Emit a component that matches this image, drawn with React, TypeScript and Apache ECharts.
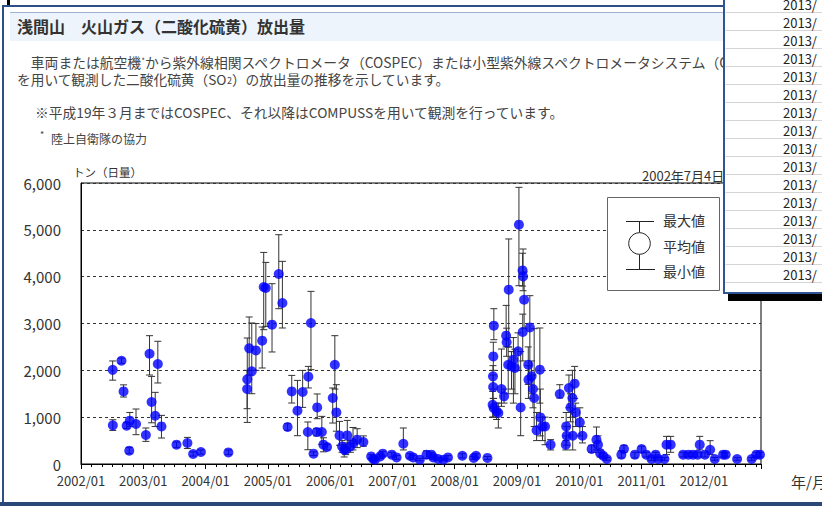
import React, { useEffect, useRef } from 'react';
import * as echarts from 'echarts';

// Observation dates (YYYY/MM/DD) and SO2 emission rates in tonnes per day
const dates = [
  '2002/07/04', '2002/07/05', '2002/08/25', '2002/09/07', '2002/09/25', '2002/10/10', '2002/10/13', '2002/11/19',
  '2003/01/16', '2003/02/07', '2003/02/19', '2003/03/10', '2003/03/25', '2003/04/16', '2003/07/13', '2003/09/16',
  '2003/10/19', '2003/12/04', '2004/05/13', '2004/09/01', '2004/09/02', '2004/09/13', '2004/09/28', '2004/10/22',
  '2004/11/28', '2004/12/07', '2004/12/19', '2005/01/25', '2005/03/04', '2005/03/25', '2005/04/25', '2005/05/19',
  '2005/06/22', '2005/07/22', '2005/08/22', '2005/08/25', '2005/09/10', '2005/09/25', '2005/10/13', '2005/10/16',
  '2005/11/13', '2005/11/22', '2005/12/13', '2006/01/16', '2006/01/28', '2006/02/07', '2006/02/25', '2006/03/10',
  '2006/03/22', '2006/04/01', '2006/04/10', '2006/04/28', '2006/05/13', '2006/06/07', '2006/07/13', '2006/08/28',
  '2006/09/10', '2006/09/20', '2006/10/20', '2006/11/05', '2006/12/27', '2007/01/25', '2007/03/04', '2007/04/12',
  '2007/05/01', '2007/06/09', '2007/07/18', '2007/08/16', '2007/08/27', '2007/09/25', '2007/10/25', '2007/11/22',
  '2008/02/15', '2008/04/21', '2008/05/04', '2008/07/10',
  '2008/08/10', '2008/08/12', '2008/08/13', '2008/08/14', '2008/08/17', '2008/08/16', '2008/09/03', '2008/09/13',
  '2008/10/01', '2008/10/16', '2008/10/28', '2008/11/01', '2008/11/13', '2008/11/10', '2008/11/29', '2008/12/10',
  '2008/12/19', '2009/01/07', '2009/01/12', '2009/01/22', '2009/02/03', '2009/02/06', '2009/02/04', '2009/02/12',
  '2009/03/06', '2009/03/07', '2009/03/15', '2009/03/25', '2009/04/03', '2009/04/10', '2009/04/24', '2009/05/13',
  '2009/05/16', '2009/05/28', '2009/06/13', '2009/07/15', '2009/09/08', '2009/10/13', '2009/10/15', '2009/10/18',
  '2009/11/01', '2009/11/10', '2009/11/21', '2009/11/23', '2009/12/04', '2009/12/10', '2010/01/04', '2010/01/19',
  '2010/03/12', '2010/04/10', '2010/04/19', '2010/05/01', '2010/05/19', '2010/06/10', '2010/09/04', '2010/09/19',
  '2010/11/22', '2011/01/01', '2011/01/28', '2011/02/28', '2011/03/22', '2011/04/06', '2011/05/13', '2011/05/25',
  '2011/06/19', '2011/09/01', '2011/10/01', '2011/10/28', '2011/11/25', '2011/12/07', '2012/01/07', '2012/02/07',
  '2012/03/04', '2012/04/22', '2012/05/07', '2012/07/13', '2012/10/07', '2012/11/04', '2012/11/25',
];

const means = [
  2010, 825, 2205, 1550, 818, 284, 925, 854,
  619, 2355, 1324, 1031, 2135, 803, 412, 448,
  213, 256, 248, 1601, 1807, 2469, 1978, 2426,
  2633, 3780, 3758, 2975, 4057, 3438, 790, 1550,
  1138, 1537, 683, 1864, 3010, 220, 683, 1209,
  683, 412, 363, 1409, 2120, 1102, 611, 376,
  305, 305, 611, 376, 448, 519, 470, 162,
  107, 92, 162, 220, 199, 141, 433, 177,
  141, 92, 199, 199, 141, 107, 92, 141,
  177, 130, 177, 130,
  1266, 1871, 1644, 2298, 2953, 1196, 1124, 1089,
  1601, 1444, 2740, 2597, 3722, 2120, 2085, 2227,
  2050, 2405, 5110, 1209, 4134, 4006, 2819, 3508,
  2120, 1800, 2917, 1871, 1601, 1409, 718, 2014,
  995, 803, 803, 412, 1495, 412, 803, 604,
  1623, 1209, 1409, 604, 1715, 1102, 888, 604,
  320, 519, 412, 235, 177, 107, 199, 320,
  199, 320, 199, 107, 199, 107, 107, 412,
  412, 199, 199, 199, 199, 412, 199, 305,
  107, 199, 199, 107, 107, 199, 199,
];

const mins = [
  1790, 717, 2150, 1430, 760, 220, 800, 626,
  483, 1900, 880, 800, 1730, 555, 350, 330,
  170, 210, 200, 1181, 888, 1900, 1501, 2000,
  2050, 2868, 2938, 2392, 3316, 2904, 720, 1302,
  604, 1209, 305, 1623, 2014, 180, 600, 967,
  420, 260, 300, 875, 1600, 700, 400, 250,
  150, 200, 300, 250, 300, 350, 380, 120,
  80, 70, 120, 170, 150, 100, 300, 130,
  100, 70, 120, 150, 100, 80, 70, 100,
  130, 100, 130, 100,
  1000, 1600, 1400, 2000, 2654, 1000, 950, 769,
  1231, 1300, 2500, 2300, 2500, 1500, 1600, 1300,
  1500, 2000, 3807, 604, 3800, 3700, 2200, 2900,
  1700, 1400, 1800, 1500, 1200, 800, 500, 1300,
  600, 500, 412, 300, 1409, 300, 500, 400,
  1200, 900, 1000, 300, 1400, 800, 600, 450,
  250, 300, 250, 150, 120, 80, 130, 250,
  130, 250, 150, 80, 150, 80, 80, 200,
  250, 150, 150, 150, 150, 300, 150, 200,
  80, 150, 150, 80, 80, 150, 150,
];

const maxs = [
  2200, 945, 2260, 1690, 880, 350, 1100, 1174,
  769, 2740, 1870, 1530, 2620, 1038, 470, 568,
  260, 300, 300, 2000, 2690, 3139, 3011, 3000,
  2925, 4518, 4305, 3850, 4896, 4327, 860, 1892,
  1785, 1999, 897, 2084, 3686, 260, 760, 1495,
  1017, 560, 420, 1623, 2740, 1693, 910, 500,
  420, 450, 931, 500, 780, 754, 600, 200,
  140, 120, 200, 270, 250, 180, 769, 220,
  180, 120, 280, 250, 180, 140, 120, 180,
  220, 160, 220, 160,
  1550, 2100, 1900, 2600, 3316, 1400, 1300, 1300,
  2455, 1600, 3387, 2900, 4805, 2500, 2400, 2700,
  2450, 2800, 5907, 2400, 4500, 4591, 3200, 4100,
  2500, 2100, 3594, 2200, 1900, 2889, 1100, 2904,
  1600, 1000, 1000, 520, 1693, 600, 1100, 800,
  1900, 1500, 2000, 1100, 2084, 1300, 1200, 800,
  400, 790, 600, 300, 230, 140, 280, 400,
  250, 380, 250, 140, 250, 140, 140, 590,
  590, 250, 250, 250, 250, 590, 250, 498,
  140, 250, 250, 140, 140, 250, 250,
];

const yearLabels = [
  '2002/01', '2003/01', '2004/01', '2005/01', '2006/01', '2007/01',
  '2008/01', '2009/01', '2010/01', '2011/01', '2012/01',
];

const tableRows = Array.from({ length: 16 }, () => '2013/');

const FONT = '"Noto Sans CJK JP", "Noto Sans", sans-serif';
const BLUE_DARK = '#2d4f87';
const BODY = '#444';

// months elapsed since 2002/01/01
function monthIndex(d: string): number {
  const [y, m, day] = d.split('/').map(Number);
  return (y - 2002) * 12 + (m - 1) + (day - 1) / 30;
}

export default function App() {
  const ref = useRef<HTMLDivElement>(null);

  useEffect(() => {
    document.body.style.margin = '0';
    const chart = echarts.init(ref.current!, null, { renderer: 'svg' });

    const pts = dates.map((d, i) => [monthIndex(d), means[i]]);
    const bars = dates.map((d, i) => [monthIndex(d), mins[i], maxs[i]]);

    const txt = (x: number, y: number, text: string, size: number, extra: any = {}) => ({
      type: 'text',
      x,
      y,
      z: extra.z ?? 5,
      style: {
        text,
        fill: extra.fill ?? '#333',
        fontSize: size,
        fontFamily: FONT,
        fontWeight: extra.fontWeight ?? 'normal',
        align: extra.align ?? 'left',
        verticalAlign: 'middle',
        rich: extra.rich,
      },
    });

    const graphics: any[] = [
      // page frame
      { type: 'rect', z: 1, shape: { x: 2, y: 5, width: 722, height: 2 }, style: { fill: BLUE_DARK } },
      { type: 'rect', z: 1, shape: { x: 2, y: 5, width: 2, height: 501 }, style: { fill: BLUE_DARK } },
      { type: 'rect', z: 1, shape: { x: 0, y: 502, width: 822, height: 4 }, style: { fill: '#2a4778' } },
      { type: 'rect', z: 1, shape: { x: 7, y: 0, width: 3, height: 5 }, style: { fill: '#000' } },
      // heading band
      { type: 'rect', z: 1, shape: { x: 10, y: 12, width: 714, height: 29 }, style: { fill: '#eef4fb' } },
      { type: 'line', z: 1, shape: { x1: 10, y1: 12.5, x2: 724, y2: 12.5 }, style: { stroke: '#9db3d3', lineWidth: 1 } },
      txt(17, 26, '浅間山　火山ガス（二酸化硫黄）放出量', 16, { fontWeight: 'bold', fill: '#333' }),
      txt(17, 62, '{a|　車両または航空機}{s|*}{a|から紫外線相関スペクトロメータ（COSPEC）または小型紫外線スペクトロメータシステム（C}', 13.8, {
        fill: BODY,
        rich: {
          a: { fontSize: 13.8, lineHeight: 12, fontFamily: FONT, fill: BODY, color: BODY },
          s: { fontSize: 8, lineHeight: 12, fontFamily: FONT, fill: BODY, color: BODY, verticalAlign: 'top' },
        },
      }),
      txt(17, 79, '{a|を用いて観測した二酸化硫黄（SO}{b|2}{a|）の放出量の推移を示しています。}', 13.7, {
        fill: BODY,
        rich: {
          a: { fontSize: 13.7, lineHeight: 12, fontFamily: FONT, fill: BODY, color: BODY },
          b: { fontSize: 9, lineHeight: 12, fontFamily: FONT, fill: BODY, color: BODY, verticalAlign: 'bottom' },
        },
      }),
      txt(35, 112, '※平成19年３月まではCOSPEC、それ以降はCOMPUSSを用いて観測を行っています。', 13.75, { fill: BODY }),
      txt(40, 134, '*', 9, { fill: BODY }),
      txt(51, 138, '陸上自衛隊の協力', 12, { fill: BODY }),
      // chart captions
      txt(73, 172, 'トン（日量）', 11.5, { fill: '#333' }),
      txt(642, 175, '2002年7月4日', 13, { fill: '#333' }),
      txt(791, 481, '年/月', 15, { fill: '#333' }),
      // legend box
      { type: 'rect', z: 50, shape: { x: 607.5, y: 197.5, width: 112, height: 93 }, style: { fill: '#fff', stroke: '#666', lineWidth: 1 } },
      { type: 'line', z: 51, shape: { x1: 626, y1: 221.5, x2: 654, y2: 221.5 }, style: { stroke: '#222', lineWidth: 1 } },
      { type: 'line', z: 51, shape: { x1: 639.5, y1: 221.5, x2: 639.5, y2: 232.5 }, style: { stroke: '#222', lineWidth: 1 } },
      { type: 'circle', z: 51, shape: { cx: 639.5, cy: 243.5, r: 10.8 }, style: { fill: '#fff', stroke: '#222', lineWidth: 1 } },
      { type: 'line', z: 51, shape: { x1: 639.5, y1: 254.5, x2: 639.5, y2: 269.5 }, style: { stroke: '#222', lineWidth: 1 } },
      { type: 'line', z: 51, shape: { x1: 626, y1: 269.5, x2: 655, y2: 269.5 }, style: { stroke: '#222', lineWidth: 1 } },
      txt(663, 220, '最大値', 14, { z: 52, fill: '#333' }),
      txt(663, 246, '平均値', 14, { z: 52, fill: '#333' }),
      txt(663, 271, '最小値', 14, { z: 52, fill: '#333' }),
      // data table window in front
      { type: 'rect', z: 99, shape: { x: 728, y: 294, width: 100, height: 7 }, style: { fill: '#000' } },
      { type: 'rect', z: 100, shape: { x: 724, y: -4, width: 110, height: 297 }, style: { fill: '#fff', stroke: '#2f5597', lineWidth: 2 } },
    ];

    tableRows.forEach((t, k) => {
      graphics.push({
        type: 'line',
        z: 101,
        shape: { x1: 725.5, y1: 12.5 + 18 * k, x2: 822, y2: 12.5 + 18 * k },
        style: { stroke: '#d4d4d4', lineWidth: 1 },
      });
      graphics.push(txt(783, 4.5 + 18 * k, t, 13, { z: 102, fill: '#222' }));
    });

    const option: any = {
      animation: false,
      backgroundColor: '#fff',
      textStyle: { fontFamily: FONT },
      grid: {
        left: 81,
        top: 183,
        width: 680,
        height: 281,
        show: true,
        borderColor: '#000',
        borderWidth: 1,
        backgroundColor: 'transparent',
      },
      xAxis: {
        type: 'value',
        min: 0,
        max: 131,
        interval: 12,
        axisLine: { show: true, lineStyle: { color: '#000', width: 1 } },
        axisTick: { show: true, length: 5, lineStyle: { color: '#000' } },
        minorTick: { show: true, splitNumber: 6, length: 3, lineStyle: { color: '#000' } },
        splitLine: { show: false },
        axisLabel: {
          showMaxLabel: false,
          margin: 10,
          fontSize: 13,
          color: '#333',
          fontFamily: FONT,
          formatter: (v: number) => yearLabels[Math.round(v / 12)] ?? '',
        },
      },
      yAxis: {
        type: 'value',
        min: 0,
        max: 6000,
        interval: 1000,
        axisLine: { show: true, lineStyle: { color: '#000', width: 1 } },
        axisTick: { show: false },
        splitLine: { show: true, lineStyle: { color: '#333', type: [3, 3], width: 1 } },
        axisLabel: {
          margin: 20,
          fontSize: 15,
          color: '#333',
          fontFamily: FONT,
          formatter: (v: number) => v.toLocaleString('en-US'),
        },
      },
      graphic: { elements: graphics },
      series: [
        {
          type: 'custom',
          name: 'range',
          z: 3,
          data: bars,
          encode: { x: 0, y: [1, 2] },
          renderItem: (_params: any, api: any) => {
            const x = api.value(0);
            const lo = api.coord([x, api.value(1)]);
            const hi = api.coord([x, api.value(2)]);
            const hw = 3.5;
            const st = { stroke: '#333', lineWidth: 1 };
            return {
              type: 'group',
              children: [
                { type: 'line', shape: { x1: lo[0], y1: lo[1], x2: hi[0], y2: hi[1] }, style: st },
                { type: 'line', shape: { x1: lo[0] - hw, y1: lo[1], x2: lo[0] + hw, y2: lo[1] }, style: st },
                { type: 'line', shape: { x1: hi[0] - hw, y1: hi[1], x2: hi[0] + hw, y2: hi[1] }, style: st },
              ],
            };
          },
        },
        {
          type: 'scatter',
          name: 'mean',
          z: 4,
          data: pts,
          symbol: 'circle',
          symbolSize: 10,
          itemStyle: { color: '#0000ff' },
        },
      ],
    };

    chart.setOption(option);
    return () => chart.dispose();
  }, []);

  return (
    <div
      ref={ref}
      style={{ position: 'fixed', left: 0, top: 0, width: 822, height: 506, background: '#fff' }}
    />
  );
}
